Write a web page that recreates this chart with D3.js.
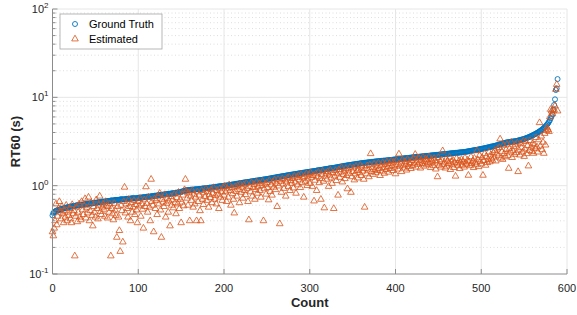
<!DOCTYPE html>
<html>
<head>
<meta charset="utf-8">
<script src="https://cdn.jsdelivr.net/npm/d3@7"></script>
<style>
  body { margin: 0; background: #fff; }
  text { font-family: "Liberation Sans", Arial, sans-serif; }
</style>
</head>
<body>
<div id="viz"></div>
<script>
// ground truth RT60, sorted (index = count)
var groundTruth = [
  0.46,0.49,0.50,0.51,0.52,0.52,0.53,0.53,0.53,0.54,0.54,0.55,0.55,0.55,0.56,0.56,0.56,0.57,0.57,0.57,
  0.58,0.58,0.58,0.58,0.59,0.59,0.59,0.59,0.60,0.60,0.60,0.60,0.60,0.61,0.61,0.61,0.61,0.61,0.62,0.62,
  0.62,0.62,0.62,0.63,0.63,0.63,0.63,0.63,0.64,0.64,0.64,0.64,0.64,0.65,0.65,0.65,0.65,0.65,0.66,0.66,
  0.66,0.66,0.66,0.67,0.67,0.67,0.67,0.67,0.68,0.68,0.68,0.68,0.68,0.69,0.69,0.69,0.69,0.69,0.69,0.70,
  0.70,0.70,0.70,0.70,0.70,0.70,0.71,0.71,0.71,0.71,0.71,0.71,0.72,0.72,0.72,0.72,0.72,0.72,0.72,0.72,
  0.73,0.73,0.73,0.73,0.73,0.74,0.74,0.74,0.74,0.74,0.75,0.75,0.75,0.75,0.75,0.76,0.76,0.76,0.76,0.77,
  0.77,0.77,0.77,0.78,0.78,0.78,0.78,0.79,0.79,0.79,0.79,0.80,0.80,0.80,0.80,0.81,0.81,0.81,0.81,0.82,
  0.82,0.82,0.82,0.83,0.83,0.83,0.84,0.84,0.84,0.85,0.85,0.86,0.86,0.87,0.88,0.88,0.88,0.89,0.89,0.89,
  0.89,0.90,0.90,0.90,0.90,0.90,0.91,0.91,0.91,0.91,0.91,0.92,0.92,0.92,0.92,0.93,0.93,0.93,0.93,0.94,
  0.94,0.94,0.94,0.95,0.95,0.95,0.95,0.96,0.96,0.96,0.97,0.97,0.97,0.98,0.98,0.98,0.99,0.99,0.99,0.99,
  1.00,1.00,1.00,1.00,1.01,1.01,1.01,1.02,1.02,1.03,1.03,1.03,1.04,1.04,1.05,1.05,1.05,1.06,1.06,1.07,
  1.07,1.07,1.08,1.08,1.09,1.09,1.09,1.10,1.10,1.10,1.11,1.11,1.12,1.12,1.12,1.13,1.13,1.14,1.14,1.14,
  1.15,1.15,1.16,1.16,1.16,1.17,1.17,1.18,1.18,1.18,1.19,1.19,1.20,1.20,1.21,1.21,1.22,1.22,1.23,1.23,
  1.24,1.24,1.25,1.25,1.26,1.26,1.27,1.27,1.28,1.28,1.29,1.29,1.30,1.30,1.31,1.31,1.32,1.32,1.33,1.33,
  1.34,1.34,1.35,1.35,1.36,1.36,1.37,1.37,1.38,1.38,1.39,1.39,1.40,1.40,1.41,1.41,1.42,1.42,1.43,1.43,
  1.44,1.44,1.45,1.45,1.46,1.46,1.47,1.47,1.48,1.49,1.49,1.50,1.50,1.51,1.51,1.52,1.52,1.53,1.54,1.54,
  1.55,1.55,1.56,1.57,1.57,1.58,1.58,1.59,1.59,1.60,1.60,1.61,1.62,1.62,1.63,1.64,1.64,1.65,1.66,1.66,
  1.67,1.68,1.68,1.69,1.70,1.70,1.71,1.71,1.72,1.73,1.73,1.74,1.74,1.75,1.76,1.76,1.77,1.77,1.78,1.79,
  1.79,1.80,1.80,1.81,1.81,1.82,1.82,1.83,1.83,1.84,1.84,1.85,1.85,1.86,1.86,1.87,1.87,1.88,1.88,1.89,
  1.89,1.90,1.90,1.90,1.91,1.91,1.92,1.92,1.92,1.93,1.93,1.94,1.94,1.95,1.95,1.96,1.96,1.97,1.97,1.98,
  1.98,1.99,1.99,2.00,2.00,2.01,2.01,2.02,2.02,2.03,2.04,2.04,2.05,2.05,2.06,2.06,2.07,2.07,2.08,2.08,
  2.09,2.09,2.10,2.10,2.11,2.11,2.12,2.12,2.13,2.13,2.14,2.14,2.15,2.15,2.16,2.16,2.17,2.17,2.18,2.18,
  2.19,2.19,2.20,2.20,2.21,2.21,2.22,2.22,2.23,2.23,2.24,2.24,2.25,2.25,2.26,2.27,2.27,2.28,2.28,2.29,
  2.29,2.30,2.30,2.31,2.32,2.32,2.33,2.33,2.34,2.34,2.35,2.35,2.36,2.36,2.37,2.38,2.38,2.39,2.39,2.40,
  2.41,2.41,2.42,2.43,2.44,2.45,2.46,2.47,2.48,2.49,2.50,2.51,2.52,2.53,2.54,2.55,2.56,2.57,2.58,2.60,
  2.61,2.62,2.63,2.64,2.66,2.67,2.68,2.70,2.71,2.72,2.74,2.75,2.77,2.78,2.80,2.81,2.83,2.84,2.86,2.88,
  2.90,2.92,2.94,2.96,2.98,3.00,3.02,3.04,3.06,3.07,3.09,3.10,3.11,3.12,3.13,3.14,3.15,3.16,3.17,3.18,
  3.19,3.20,3.22,3.24,3.26,3.28,3.30,3.32,3.34,3.36,3.38,3.41,3.44,3.47,3.50,3.53,3.56,3.60,3.64,3.68,
  3.72,3.76,3.80,3.85,3.90,3.95,4.00,4.06,4.12,4.18,4.25,4.32,4.40,4.50,4.60,4.70,4.82,4.95,5.10,5.30,
  5.50,5.80,6.10,6.40,7.20,8.20,9.50,12.1,12.6,16.1
];

// estimated RT60 for the same rooms
var estimated = [
  0.30,0.27,0.33,0.40,0.62,0.36,0.45,0.55,0.66,0.50,0.42,0.58,0.48,0.38,0.52,0.44,0.60,0.40,0.50,0.46,
  0.55,0.42,0.38,0.61,0.48,0.52,0.16,0.45,0.57,0.39,0.50,0.62,0.44,0.41,0.66,0.53,0.47,0.59,0.71,0.43,
  0.56,0.49,0.74,0.40,0.52,0.64,0.46,0.35,0.58,0.50,0.44,0.69,0.55,0.42,0.60,0.76,0.51,0.47,0.57,0.62,
  0.54,0.45,0.66,0.59,0.43,0.58,0.50,0.62,0.16,0.55,0.48,0.41,0.63,0.53,0.46,0.26,0.58,0.44,0.31,0.18,
  0.60,0.52,0.23,0.66,0.96,0.49,0.62,0.55,0.44,0.70,0.58,0.40,0.64,0.50,0.57,0.68,0.47,0.61,0.53,0.38,
  0.66,0.59,0.72,0.45,0.62,0.54,0.33,0.69,0.58,0.97,0.63,0.50,0.74,0.57,0.40,1.18,0.66,0.60,0.30,0.71,
  0.55,0.68,0.47,0.76,0.62,0.82,0.53,0.26,0.70,0.65,0.58,0.79,0.44,0.63,0.72,0.50,0.67,0.35,0.75,0.60,
  0.69,0.56,0.80,0.64,0.48,0.73,0.62,0.84,0.55,0.70,0.38,0.65,0.78,0.59,0.90,1.18,0.86,0.72,0.60,0.83,
  0.40,0.76,0.68,0.88,0.57,0.80,0.62,0.74,0.40,0.85,0.66,0.78,0.52,0.40,0.88,0.70,0.61,0.83,0.75,0.92,
  0.68,0.86,0.57,0.79,0.73,0.90,0.64,0.82,0.95,0.70,0.77,0.62,0.88,0.80,0.55,0.92,0.74,0.85,0.68,0.96,
  0.78,0.98,0.85,0.66,0.92,0.74,1.02,0.88,0.60,0.95,0.81,0.70,0.49,0.97,0.86,0.76,1.00,0.90,0.64,1.04,
  0.84,0.96,0.72,1.02,0.88,0.79,1.06,0.93,0.66,0.41,0.98,0.85,1.08,0.76,0.95,1.03,0.70,0.90,1.10,0.82,
  0.97,1.06,0.88,0.74,1.00,1.12,0.40,0.92,1.04,0.80,1.08,0.95,0.69,1.14,0.86,1.02,0.78,1.10,0.96,1.16,
  0.90,1.06,0.58,1.18,0.99,0.37,1.12,0.84,1.20,1.04,0.93,1.16,0.76,1.10,1.22,0.98,1.25,0.88,1.14,1.06,
  1.20,0.94,1.28,1.10,0.82,1.24,1.02,1.30,1.16,0.95,1.34,1.08,1.22,0.74,1.27,1.12,1.36,1.00,1.19,1.32,
  1.06,1.40,1.24,0.98,1.30,0.67,1.15,1.36,0.88,1.26,1.42,1.08,1.20,0.70,1.34,1.46,1.12,0.56,1.28,1.38,
  1.18,1.44,0.98,1.32,1.50,1.22,1.06,1.40,0.55,1.28,1.48,1.14,1.36,0.78,1.52,1.24,1.42,1.60,1.10,1.34,
  1.46,1.20,1.56,1.30,0.92,1.50,1.38,1.62,0.84,1.26,1.44,1.58,1.16,1.36,1.66,1.48,1.22,1.54,1.40,1.70,
  1.30,1.62,1.46,1.18,0.57,1.56,1.36,1.68,1.50,1.26,1.72,2.30,1.44,1.60,1.34,1.76,1.52,1.40,1.66,1.48,
  1.80,1.56,1.30,1.70,1.46,1.82,1.60,1.38,1.74,1.52,1.86,1.64,1.42,1.78,1.56,1.90,1.68,1.48,1.84,1.62,
  1.36,1.92,1.72,1.54,2.28,1.66,1.80,1.44,1.96,1.70,1.58,1.88,1.74,1.50,1.98,1.64,1.82,1.76,1.56,1.92,
  1.68,2.02,1.80,2.26,1.62,1.90,1.74,2.06,1.84,1.58,1.94,1.78,2.10,1.66,1.88,2.00,1.72,1.96,1.82,2.12,
  1.76,1.60,1.98,1.86,1.68,2.04,1.92,1.54,1.80,1.26,2.08,1.70,1.88,1.62,1.96,2.48,1.74,1.84,1.58,2.00,
  1.66,1.90,1.78,2.10,1.52,1.86,1.72,1.95,1.60,1.82,1.28,2.02,1.76,1.68,1.92,1.56,1.84,1.98,1.70,1.88,
  1.62,2.06,1.80,1.74,1.94,1.31,1.86,1.68,2.12,1.78,1.90,1.60,2.04,1.84,1.72,2.48,1.96,1.64,2.20,1.88,
  1.76,2.08,1.31,1.92,2.30,1.70,2.14,1.82,1.98,2.40,1.86,2.22,2.04,1.94,2.36,2.10,2.50,1.90,2.28,2.60,
  2.18,2.70,3.37,2.05,2.44,1.98,2.86,2.30,2.12,2.56,2.94,2.20,1.57,2.62,2.40,3.10,2.08,2.48,2.76,2.26,
  2.90,2.36,3.05,1.44,2.52,2.22,2.98,2.68,2.40,3.20,2.14,2.60,3.14,2.30,2.84,1.67,2.50,3.24,2.72,2.44,
  3.00,2.32,2.90,2.62,3.50,2.74,2.40,3.30,5.16,2.80,3.64,2.55,3.10,2.32,3.90,2.88,4.20,4.50,4.30,4.10,
  6.00,7.30,7.00,6.50,7.00,7.20,8.00,12.3,14.0,7.00
];

var xTicks = [0, 100, 200, 300, 400, 500, 600];
var yDecades = [-1, 0, 1, 2];
var seriesNames = ["Ground Truth", "Estimated"];
var colors = ["#0072BD", "#D95319"];

const W = 577, H = 315;
const mLeft = 52.5, mRight = 567, mTop = 9, mBottom = 274;

var svg = d3.select("#viz").append("svg")
    .attr("width", W)
    .attr("height", H);

var x = d3.scaleLinear().domain([0, 600]).range([mLeft, mRight]);
var y = d3.scaleLog().domain([0.1, 100]).range([mBottom, mTop]);

// minor grid (dotted) for log axis
var minors = [];
yDecades.slice(0, 3).forEach(function (e) {
    for (var k = 2; k <= 9; k++) minors.push(k * Math.pow(10, e));
});

var grid = svg.append("g");
grid.selectAll("line.minor")
    .data(minors)
    .enter().append("line")
    .attr("x1", mLeft).attr("x2", mRight)
    .attr("y1", function (d) { return y(d); })
    .attr("y2", function (d) { return y(d); })
    .attr("stroke", "#c8c8c8")
    .attr("stroke-width", 0.6)
    .attr("stroke-dasharray", "1,2.5");

grid.selectAll("line.ymajor")
    .data(yDecades.slice(1, 3))
    .enter().append("line")
    .attr("x1", mLeft).attr("x2", mRight)
    .attr("y1", function (d) { return y(Math.pow(10, d)); })
    .attr("y2", function (d) { return y(Math.pow(10, d)); })
    .attr("stroke", "#e6e6e6")
    .attr("stroke-width", 1);

grid.selectAll("line.xmajor")
    .data(xTicks.slice(1, 6))
    .enter().append("line")
    .attr("x1", function (d) { return x(d); })
    .attr("x2", function (d) { return x(d); })
    .attr("y1", mTop).attr("y2", mBottom)
    .attr("stroke", "#e6e6e6")
    .attr("stroke-width", 1);

// box (top / right light)
svg.append("line").attr("x1", mLeft).attr("x2", mRight).attr("y1", mTop).attr("y2", mTop)
    .attr("stroke", "#e6e6e6");
svg.append("line").attr("x1", mRight).attr("x2", mRight).attr("y1", mTop).attr("y2", mBottom)
    .attr("stroke", "#e6e6e6");

// ground truth circles
svg.append("g").selectAll("circle")
    .data(groundTruth)
    .enter().append("circle")
    .attr("cx", function (d, i) { return x(i); })
    .attr("cy", function (d) { return y(d); })
    .attr("r", 2.5)
    .attr("fill", "none")
    .attr("stroke", colors[0])
    .attr("stroke-width", 0.9);

// estimated triangles
var tri = d3.symbol().type(d3.symbolTriangle).size(19);
svg.append("g").selectAll("path")
    .data(estimated)
    .enter().append("path")
    .attr("d", tri)
    .attr("transform", function (d, i) { return "translate(" + x(i) + "," + y(d) + ")"; })
    .attr("fill", "none")
    .attr("stroke", colors[1])
    .attr("stroke-width", 0.8);

// axes
var axisColor = "#8c8c8c";
var xAxis = svg.append("g").attr("transform", "translate(0," + mBottom + ")");
xAxis.append("line").attr("x1", mLeft).attr("x2", mRight).attr("stroke", axisColor);
xAxis.selectAll("line.t")
    .data(xTicks)
    .enter().append("line")
    .attr("x1", function (d) { return x(d); })
    .attr("x2", function (d) { return x(d); })
    .attr("y1", 0).attr("y2", -5)
    .attr("stroke", axisColor);
xAxis.selectAll("text")
    .data(xTicks)
    .enter().append("text")
    .attr("x", function (d) { return x(d); })
    .attr("y", 18)
    .attr("text-anchor", "middle")
    .attr("font-size", 11)
    .attr("fill", "#262626")
    .text(function (d) { return d; });

var yAxis = svg.append("g");
yAxis.append("line").attr("x1", mLeft).attr("x2", mLeft).attr("y1", mTop).attr("y2", mBottom)
    .attr("stroke", axisColor);
yAxis.selectAll("line.minor")
    .data(minors)
    .enter().append("line")
    .attr("x1", mLeft).attr("x2", mLeft + 3)
    .attr("y1", function (d) { return y(d); })
    .attr("y2", function (d) { return y(d); })
    .attr("stroke", axisColor);
yAxis.selectAll("line.major")
    .data(yDecades)
    .enter().append("line")
    .attr("x1", mLeft).attr("x2", mLeft + 5)
    .attr("y1", function (d) { return y(Math.pow(10, d)); })
    .attr("y2", function (d) { return y(Math.pow(10, d)); })
    .attr("stroke", axisColor);

var yl = yAxis.selectAll("text")
    .data(yDecades)
    .enter().append("text")
    .attr("x", mLeft - 4)
    .attr("y", function (d) { return y(Math.pow(10, d)) + 4; })
    .attr("text-anchor", "end")
    .attr("font-size", 11)
    .attr("fill", "#262626");
yl.append("tspan").text("10");
yl.append("tspan")
    .attr("dy", -5)
    .attr("font-size", 8)
    .text(function (d) { return d; });

// axis labels
svg.append("text")
    .attr("x", (mLeft + mRight) / 2)
    .attr("y", 307)
    .attr("text-anchor", "middle")
    .attr("font-size", 13)
    .attr("font-weight", "bold")
    .attr("fill", "#262626")
    .text("Count");

svg.append("text")
    .attr("transform", "translate(20," + ((mTop + mBottom) / 2) + ") rotate(-90)")
    .attr("text-anchor", "middle")
    .attr("font-size", 13)
    .attr("font-weight", "bold")
    .attr("fill", "#262626")
    .text("RT60 (s)");

// legend
var lg = svg.append("g").attr("transform", "translate(60,14)");
lg.append("rect")
    .attr("width", 102).attr("height", 35)
    .attr("fill", "#fff")
    .attr("stroke", "#a6a6a6")
    .attr("stroke-width", 0.8);

lg.append("circle")
    .attr("cx", 15).attr("cy", 10).attr("r", 2.5)
    .attr("fill", "none").attr("stroke", colors[0]).attr("stroke-width", 0.9);
lg.append("path")
    .attr("d", tri)
    .attr("transform", "translate(15,25)")
    .attr("fill", "none").attr("stroke", colors[1]).attr("stroke-width", 0.8);

lg.selectAll("text")
    .data(seriesNames)
    .enter().append("text")
    .attr("x", 29)
    .attr("y", function (d, i) { return 14 + i * 15; })
    .attr("font-size", 11)
    .attr("fill", "#000")
    .text(function (d) { return d; });
</script>
</body>
</html>
